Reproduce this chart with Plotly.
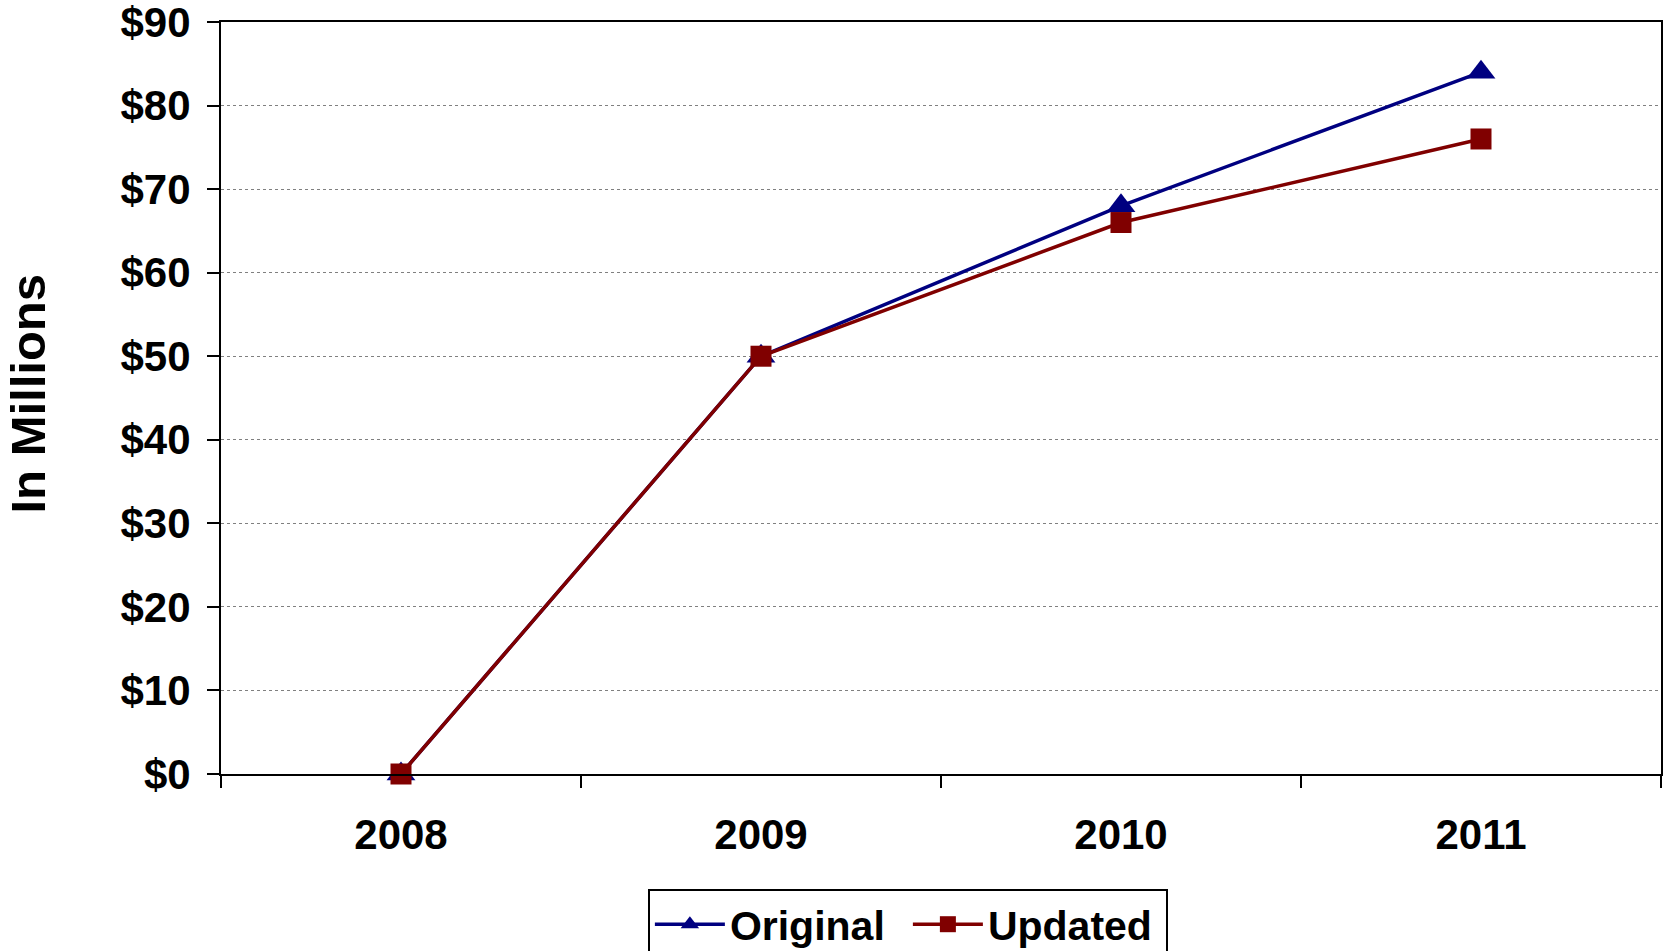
import plotly.graph_objects as go

# Annual totals, in millions of dollars
years = ["2008", "2009", "2010", "2011"]
original = [0, 50, 68, 84]
updated = [0, 50, 66, 76]

FONT = "Liberation Sans, Arial, sans-serif"

fig = go.Figure()
fig.add_trace(go.Scatter(
    x=years, y=original, name="Original", mode="lines+markers",
    line=dict(color="#000080", width=3.5),
    marker=dict(symbol="triangle-up", size=25, color="#000080"),
    cliponaxis=False,
))
fig.add_trace(go.Scatter(
    x=years, y=updated, name="Updated", mode="lines+markers",
    line=dict(color="#800000", width=3.5),
    marker=dict(symbol="square", size=21, color="#800000"),
    cliponaxis=False,
))

fig.update_layout(
    width=1665, height=951,
    margin=dict(l=221, r=4, t=22, b=177, autoexpand=False),
    paper_bgcolor="white", plot_bgcolor="white",
    font=dict(family=FONT, color="black", size=42, weight="bold"),
    showlegend=True,
    legend=dict(
        orientation="h", x=0.477, xanchor="center", y=-0.153, yanchor="top",
        bordercolor="black", borderwidth=2, bgcolor="white",
        font=dict(family=FONT, size=41, weight="bold", color="black"),
        itemwidth=70, entrywidth=173, tracegroupgap=0,
    ),
)

# Rotated axis caption at the far left
fig.add_annotation(
    text="In Millions", textangle=-90, showarrow=False,
    xref="paper", yref="paper", x=-0.134, y=0.506,
    xanchor="center", yanchor="middle",
    font=dict(family=FONT, size=49, weight="bold", color="black"),
)

fig.update_xaxes(
    type="category", range=[-0.5, 3.5],
    showline=True, linecolor="black", linewidth=2, mirror=True,
    ticks="outside", ticklen=12, tickwidth=1.5, tickcolor="black",
    tickson="boundaries", showgrid=False, zeroline=False,
    ticklabelstandoff=23,
    tickfont=dict(family=FONT, size=42, weight="bold"),
)
fig.update_yaxes(
    range=[0, 90], dtick=10, tickprefix="$",
    showline=True, linecolor="black", linewidth=2, mirror=True,
    ticks="outside", ticklen=12, tickwidth=1.5, tickcolor="black",
    showgrid=True, gridcolor="#808080", gridwidth=1, griddash="dot",
    zeroline=False, ticklabelstandoff=8, ticklabeloverflow="allow",
    tickfont=dict(family=FONT, size=42, weight="bold"),
    automargin=False,
)

fig.write_html("out.html")
